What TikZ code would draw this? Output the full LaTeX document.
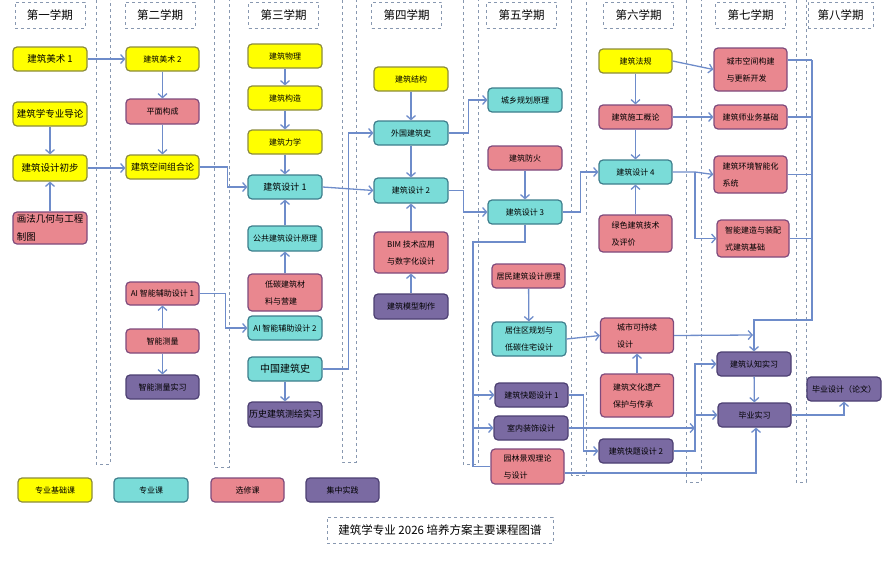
\documentclass[tikz,border=0pt]{standalone}
\usepackage{fontspec}
\setmainfont{Noto Sans CJK SC}
\usetikzlibrary{arrows.meta}
\definecolor{cyel}{HTML}{FFFF00}
\definecolor{cyelb}{HTML}{8C8C3C}
\definecolor{cteal}{HTML}{7ADCD8}
\definecolor{ctealb}{HTML}{3E7E8C}
\definecolor{cpink}{HTML}{E9878F}
\definecolor{cpinkb}{HTML}{7E4A7C}
\definecolor{cpur}{HTML}{7A6AA2}
\definecolor{cpurb}{HTML}{4C3F72}
\definecolor{cline}{HTML}{6E8CCA}
\definecolor{cdash}{HTML}{8898B0}
\tikzset{
  base/.style={draw, line width=1.2pt, rounded corners=4pt, inner sep=1pt, font=\fontsize{8}{10}\selectfont, text=black},
  yb/.style={base, fill=cyel, draw=cyelb},
  tb/.style={base, fill=cteal, draw=ctealb},
  pb/.style={base, fill=cpink, draw=cpinkb},
  ub/.style={base, fill=cpur, draw=cpurb},
  sz/.style 2 args={minimum width=#1pt, minimum height=#2pt},
  two/.style={align=left, font=\fontsize{8}{17}\selectfont},
  bigA/.style={font=\fontsize{9.5}{11}\selectfont},
  bigB/.style={font=\fontsize{9}{11}\selectfont},
  hdr/.style={draw=cdash, dashed, line width=0.8pt, minimum width=70pt, minimum height=26pt, inner sep=1pt, font=\fontsize{11.5}{13}\selectfont},
  sep/.style={draw=cdash, dashed, line width=0.8pt},
  arr/.style={draw=cline, line width=1.3pt, -{Straight Barb[length=4pt,width=9pt]}},
  ln/.style={draw=cline, line width=1.3pt}
}
\begin{document}
\begin{tikzpicture}[x=1pt,y=-1pt]
\useasboundingbox (0,0) rectangle (884,560);
% separators
\draw[sep] (96,0) -- (96,464) -- (110,464) -- (110,0);
\draw[sep] (214,0) -- (214,467) -- (229,467) -- (229,0);
\draw[sep] (342,0) -- (342,462) -- (356,462) -- (356,0);
\draw[sep] (463,0) -- (463,464) -- (478,464) -- (478,0);
\draw[sep] (571,0) -- (571,475) -- (586,475) -- (586,0);
\draw[sep] (686,0) -- (686,482) -- (701,482) -- (701,0);
\draw[sep] (796,0) -- (796,482) -- (806,482) -- (806,0);
% headers
\node[hdr] (h1) at (50,15) {第一学期};
\node[hdr] (h2) at (160,15) {第二学期};
\node[hdr] (h3) at (283.5,15) {第三学期};
\node[hdr] (h4) at (406.5,15) {第四学期};
\node[hdr] (h5) at (521.5,15) {第五学期};
\node[hdr] (h6) at (638.5,15) {第六学期};
\node[hdr] (h7) at (750.5,15) {第七学期};
\node[hdr, minimum width=65pt] (h8) at (840.5,15) {第八学期};
% semester 1
\node[yb,sz={74}{24},bigA] (s1a) at (50,59) {建筑美术 1};
\node[yb,sz={74}{24},bigA] (s1b) at (50,114) {建筑学专业导论};
\node[yb,sz={74}{26},bigA] (s1c) at (50,168) {建筑设计初步};
\node[pb,sz={74}{32},align=left,font=\fontsize{9.5}{18}\selectfont] (s1d) at (50,228) {画法几何与工程\\制图};
% semester 2
\node[yb,sz={73}{24}] (s2a) at (162.5,59) {建筑美术 2};
\node[pb,sz={73}{25}] (s2b) at (162.5,111.5) {平面构成};
\node[yb,sz={73}{24},bigB] (s2c) at (162.5,167) {建筑空间组合论};
\node[pb,sz={73}{23}] (s2d) at (162.5,293.5) {AI 智能辅助设计 1};
\node[pb,sz={73}{24}] (s2e) at (162.5,341) {智能测量};
\node[ub,sz={73}{24}] (s2f) at (162.5,387) {智能测量实习};
% semester 3
\node[yb,sz={74}{24}] (s3a) at (285,56) {建筑物理};
\node[yb,sz={74}{24}] (s3b) at (285,98) {建筑构造};
\node[yb,sz={74}{24}] (s3c) at (285,142) {建筑力学};
\node[tb,sz={74}{24},bigB] (s3d) at (285,187) {建筑设计 1};
\node[tb,sz={74}{25}] (s3e) at (285,238.5) {公共建筑设计原理};
\node[pb,sz={74}{37},two] (s3f) at (285,292.5) {低碳建筑材\\料与营建};
\node[tb,sz={74}{24}] (s3g) at (285,328) {AI 智能辅助设计 2};
\node[tb,sz={74}{24},font=\fontsize{10}{12}\selectfont] (s3h) at (285,369) {中国建筑史};
\node[ub,sz={74}{25},bigB] (s3i) at (285,414.5) {历史建筑测绘实习};
% semester 4
\node[yb,sz={74}{24}] (s4a) at (411,79) {建筑结构};
\node[tb,sz={74}{24}] (s4b) at (411,133) {外国建筑史};
\node[tb,sz={74}{25}] (s4c) at (411,190.5) {建筑设计 2};
\node[pb,sz={74}{41},two] (s4d) at (411,252.5) {BIM 技术应用\\与数字化设计};
\node[ub,sz={74}{25}] (s4e) at (411,306.5) {建筑模型制作};
% semester 5
\node[tb,sz={74}{24}] (s5a) at (525,100) {城乡规划原理};
\node[pb,sz={74}{24}] (s5b) at (525,158) {建筑防火};
\node[tb,sz={74}{24}] (s5c) at (525,212) {建筑设计 3};
\node[pb,sz={73}{24}] (s5d) at (528.5,276) {居民建筑设计原理};
\node[tb,sz={74}{34},two] (s5e) at (529,339) {居住区规划与\\低碳住宅设计};
\node[ub,sz={73}{24}] (s5f) at (531.5,395) {建筑快题设计 1};
\node[ub,sz={74}{24}] (s5g) at (531,428) {室内装饰设计};
\node[pb,sz={73}{35},two] (s5h) at (527.5,466.5) {园林景观理论\\与设计};
% semester 6
\node[yb,sz={73}{24}] (s6a) at (635.5,61) {建筑法规};
\node[pb,sz={73}{24}] (s6b) at (635.5,117) {建筑施工概论};
\node[tb,sz={73}{24}] (s6c) at (635.5,172) {建筑设计 4};
\node[pb,sz={73}{37},two] (s6d) at (635.5,233.5) {绿色建筑技术\\及评价};
\node[pb,sz={73}{35},two] (s6e) at (637,335.5) {城市可持续\\设计};
\node[pb,sz={73}{43},two] (s6f) at (637,395.5) {建筑文化遗产\\保护与传承};
\node[ub,sz={74}{24}] (s6g) at (636,451) {建筑快题设计 2};
% semester 7
\node[pb,sz={73}{43},two] (s7a) at (750.5,69.5) {城市空间构建\\与更新开发};
\node[pb,sz={73}{24}] (s7b) at (750.5,117) {建筑师业务基础};
\node[pb,sz={73}{37},two] (s7c) at (750.5,174.5) {建筑环境智能化\\系统};
\node[pb,sz={72}{37},two] (s7d) at (753,238.5) {智能建造与装配\\式建筑基础};
\node[ub,sz={74}{24}] (s7e) at (754,364) {建筑认知实习};
\node[ub,sz={73}{24}] (s7f) at (754.5,415) {毕业实习};
% semester 8
\node[ub,sz={74}{24}] (s8a) at (844,389) {毕业设计（论文）};
% legend
\node[yb,sz={74}{24}] (l1) at (55,490) {专业基础课};
\node[tb,sz={74}{24}] (l2) at (151,490) {专业课};
\node[pb,sz={73}{24}] (l3) at (247.5,490) {选修课};
\node[ub,sz={73}{24}] (l4) at (342.5,490) {集中实践};
\node[hdr, minimum width=226pt, font=\fontsize{11.5}{13}\selectfont] (title) at (440,530) {建筑学专业 2026 培养方案主要课程图谱};
% connectors semester 1-2
\draw[arr] (s1a) -- (s2a);
\draw[arr] (s1b) -- (s1c);
\draw[arr] (s1d) -- (s1c);
\draw[arr] (s1c.east) -- (s1c.east -| s2c.west);
\draw[arr] (s2a) -- (s2b);
\draw[arr] (s2b) -- (s2c);
\draw[arr] (s2c.east) -- ++(28,0) |- (s3d.west);
\draw[arr] (s2d.east) -- ++(26,0) |- (s3g.west);
\draw[arr] (s2e) -- (s2d);
\draw[arr] (s2e) -- (s2f);
% semester 3
\draw[arr] (s3a) -- (s3b);
\draw[arr] (s3b) -- (s3c);
\draw[arr] (s3c) -- (s3d);
\draw[arr] (s3e) -- (s3d);
\draw[arr] (s3f) -- (s3e);
\draw[arr] (s3h) -- (s3i);
\draw[arr] (s3h.east) -- ++(26,0) |- (s4b.west);
\draw[arr] (s3d.east) -- (s4c.west);
% semester 4
\draw[arr] (s4a) -- (s4b);
\draw[arr] (s4b) -- (s4c);
\draw[arr] (s4d) -- (s4c);
\draw[arr] (s4e) -- (s4d);
\draw[arr] (s4b.east) -- ++(20,0) |- (s5a.west);
\draw[arr] (s4c.east) -- ++(15,0) |- (s5c.west);
% semester 5
\draw[arr] (s5b) -- (s5c);
\draw[arr] (s5c.east) -- ++(18,0) |- (s6c.west);
\coordinate (j1) at (473,242);
\coordinate (j2) at (473,395);
\coordinate (j3) at (473,428);
\draw[ln] (s5c.south) |- (j1) -- (j3);
\draw[arr] (j2) -- (s5f.west);
\draw[arr] (j3) -- (s5g.west);
\draw[ln] (j3) |- (s5h.west);
\draw[arr] (s5d) -- (s5e);
\draw[arr] (s5e.east) -- (s6e.west);
\draw[arr] (s5f.east) -- ++(15,0) |- (s6g.west);
% semester 6
\draw[arr] (s6a) -- (s6b);
\draw[arr] (s6b) -- (s6c);
\draw[arr] (s6d) -- (s6c);
\draw[arr] (s6f) -- (s6e);
\draw[arr] (s6a.east) -- (s7a.west);
\draw[arr] (s6b.east) -- (s7b.west);
\coordinate (j4) at (695,172);
\draw[arr] (s6c.east) -- (j4) -- (s7c.west);
\draw[arr] (j4) |- (s7d.west);
\coordinate (j5) at (753,335);
\draw[arr] (s6e.east) -- (j5);
% collector semester 7
\coordinate (c1) at (812,60);
\coordinate (c2) at (812,320);
\draw[ln] (c1) -- (c1 -| s7a.east);
\draw[ln] (s7b.east) -- (s7b.east -| c1);
\draw[ln] (s7c.east) -- (s7c.east -| c1);
\draw[ln] (s7d.east) -- (s7d.east -| c1);
\draw[arr] (c1) -- (c2) -| (s7e.north);
\draw[arr] (s7e) -- (s7f);
\draw[arr] (s7f.east) -| (s8a.south);
\coordinate (j6) at (695,415);
\draw[arr] (s6g.east) -| (j6) |- (s7e.west);
\draw[arr] (j6) -- (s7f.west);
\draw[arr] (s5g.east) -- (s5g.east -| j6);
\coordinate (j7) at (756,473);
\draw[arr] (s5h.east |- j7) -- (j7) -- (j7 |- s7f.south);
\end{tikzpicture}
\end{document}
